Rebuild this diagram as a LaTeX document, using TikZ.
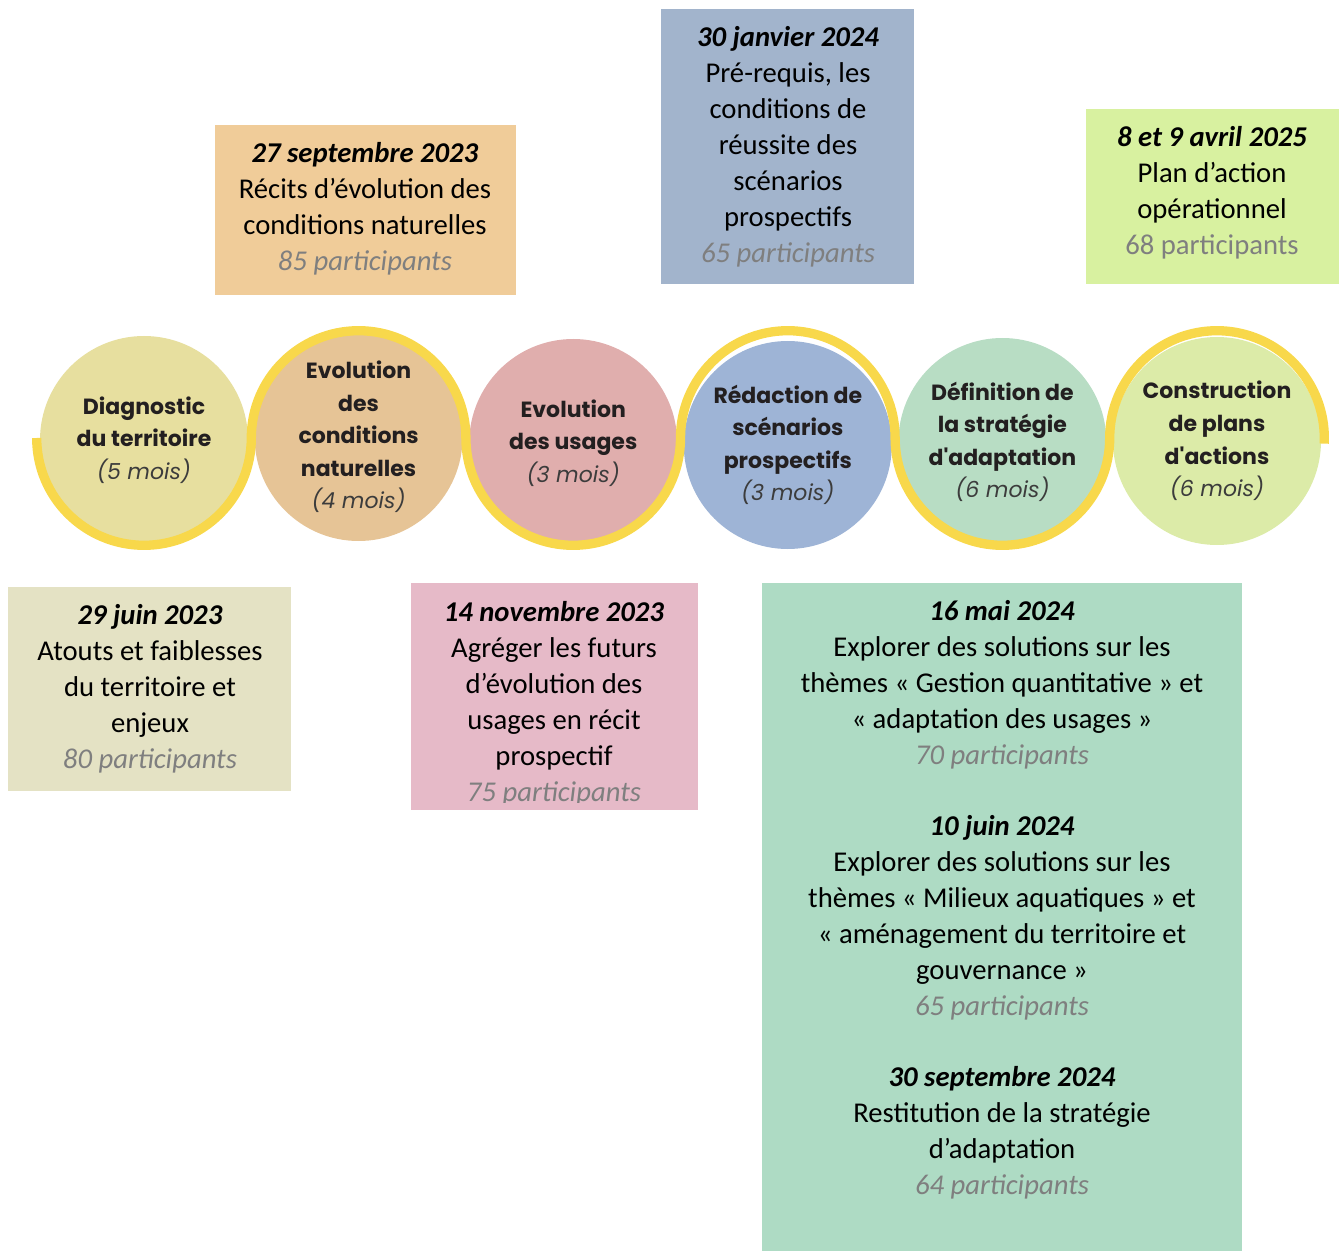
\documentclass[tikz,border=0pt]{standalone}
\usepackage{fontspec}
\setmainfont{Carlito}
\newfontfamily\circfont{Poppins}
\usepackage{xcolor}
\usepackage{tikz}
\usetikzlibrary{fit,positioning}
\definecolor{tlRibbon}{HTML}{F8D84B}
\definecolor{tlInk}{HTML}{231F20}
\definecolor{tlSoft}{HTML}{3C3C3C}
\definecolor{tlGrey}{HTML}{7F7F7F}
\definecolor{tlDiag}{HTML}{E7DF9F}
\definecolor{tlNat}{HTML}{E6C496}
\definecolor{tlUsage}{HTML}{E0AEAD}
\definecolor{tlRedac}{HTML}{9EB4D6}
\definecolor{tlStrat}{HTML}{B8DDC4}
\definecolor{tlPlans}{HTML}{DCEBA8}
\definecolor{tlBoxSep}{HTML}{F0CC99}
\definecolor{tlBoxJan}{HTML}{A2B4CC}
\definecolor{tlBoxAvr}{HTML}{D8F1A0}
\definecolor{tlBoxJuin}{HTML}{E4E2C4}
\definecolor{tlBoxNov}{HTML}{E6BAC8}
\definecolor{tlBoxMai}{HTML}{AEDBC4}
\tikzset{
  tl diagram/.style={x=0.75pt,y=0.75pt,line cap=butt},
  tl circle/.style={circle, inner sep=0pt, minimum size=156pt, align=center,
    font=\circfont\bfseries\fontsize{16.5}{24.4}\selectfont, text=tlInk},
  tl ribbon/.style={draw=tlRibbon, line width=7pt},
  tl box/.style={rectangle, inner sep=0pt, draw=none},
  tl text/.style={inner sep=0pt, align=center, text=black,
    font=\fontsize{21.5}{27}\selectfont}
}
\newcommand{\tldate}[1]{\textbf{\textit{#1}}}
\newcommand{\tlpart}[1]{{\color{tlGrey}\itshape #1}}
\newcommand{\tlmois}[1]{{\mdseries\itshape\color{tlSoft}#1}}

\begin{document}
\begin{tikzpicture}[tl diagram]
\useasboundingbox (0,0) rectangle (1341,-1251);
% phases
\foreach \nm/\x/\y/\col/\txt in {
  diag/144/-440/tlDiag/{Diagnostic\\du territoire\\\tlmois{(5 mois)}},
  evnat/358.6/-437/tlNat/{Evolution\\des\\conditions\\naturelles\\\tlmois{(4 mois)}},
  evus/573.2/-443/tlUsage/{Evolution\\des usages\\\tlmois{(3 mois)}},
  redac/787.8/-445/tlRedac/{Rédaction de\\scénarios\\prospectifs\\\tlmois{(3 mois)}},
  strat/1002.4/-442/tlStrat/{Définition de\\la stratégie\\d'adaptation\\\tlmois{(6 mois)}},
  plans/1217/-441/tlPlans/{Construction\\de plans\\d'actions\\\tlmois{(6 mois)}}}{
  \node[tl circle, fill=\col] (\nm) at (\x,\y) {\txt};
}
\draw[tl ribbon] (36.7,-438)
  arc[start angle=180,end angle=360,radius=107.3]
  arc[start angle=180,end angle=0,radius=107.3]
  arc[start angle=180,end angle=360,radius=107.3]
  arc[start angle=180,end angle=0,radius=107.3]
  arc[start angle=180,end angle=360,radius=107.3]
  arc[start angle=180,end angle=-3,radius=107.3];

% ateliers
\node[tl box, fill=tlBoxSep, fit={(215,-125) (516,-295)}] (bxsep) {};
\node[tl box, fill=tlBoxJan, fit={(661,-9) (914,-284)}] (bxjan) {};
\node[tl box, fill=tlBoxAvr, fit={(1086,-109) (1339,-284)}] (bxavr) {};
\node[tl box, fill=tlBoxJuin, fit={(8,-587) (291,-791)}] (bxjuin) {};
\node[tl box, fill=tlBoxNov, fit={(411,-583) (698,-810)}] (bxnov) {};
\node[tl box, fill=tlBoxMai, fit={(762,-583) (1242,-1251)}] (bxmai) {};

\node[tl text] (txsep) at (365,-209) {\tldate{27 septembre 2023}\\Récits d’évolution des\\conditions naturelles\\\tlpart{85 participants}};
\node[tl text] (txjan) at (788,-147) {\tldate{30 janvier 2024}\\Pré-requis, les\\conditions de\\réussite des\\scénarios\\prospectifs\\\tlpart{65 participants}};
\node[tl text] (txavr) at (1212,-193) {\tldate{8 et 9 avril 2025}\\Plan d’action\\opérationnel\\{\color{tlGrey}68 participants}};
\node[tl text] (txjuin) at (150,-689) {\tldate{29 juin 2023}\\Atouts et faiblesses\\du territoire et\\enjeux\\\tlpart{80 participants}};
\begin{scope}
  \clip (bxnov.north west) rectangle ([yshift=-7.5pt]bxnov.south east |- 0,-792);
  \node[tl text] (txnov) at (554,-704) {\tldate{14 novembre 2023}\\Agréger les futurs\\d’évolution des\\usages en récit\\prospectif\\\tlpart{75 participants}};
\end{scope}
\node[tl text] (txmai) at (1002,-685) {\tldate{16 mai 2024}\\Explorer des solutions sur les\\thèmes «~Gestion quantitative~» et\\«~adaptation des usages~»\\\tlpart{70 participants}};
\node[tl text] (txjun) at (1002,-918) {\tldate{10 juin 2024}\\Explorer des solutions sur les\\thèmes «~Milieux aquatiques~» et\\«~aménagement du territoire et\\gouvernance~»\\\tlpart{65 participants}};
\node[tl text] (txsept) at (1002,-1133) {\tldate{30 septembre 2024}\\Restitution de la stratégie\\d’adaptation\\\tlpart{64 participants}};
\end{tikzpicture}
\end{document}
